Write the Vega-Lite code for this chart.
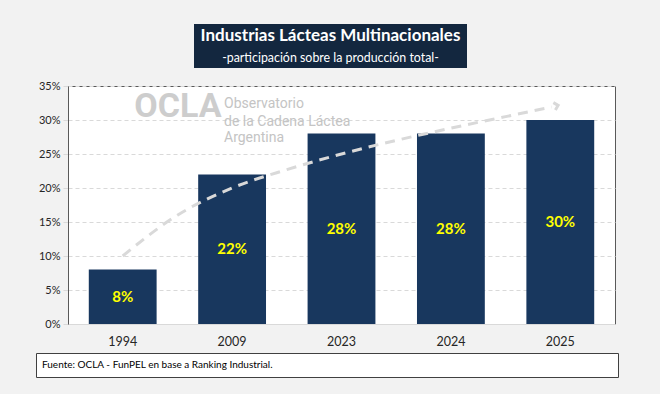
{
  "$schema": "https://vega.github.io/schema/vega-lite/v6.json",
  "background": "#f2f2f2",
  "padding": {"left": 35, "top": 24, "right": 43, "bottom": 19},
  "config": {"font": "Lato", "view": {"stroke": null}},
  "datasets": {
    "shares": [
      {"year": "1994", "share": 0.08},
      {"year": "2009", "share": 0.22},
      {"year": "2023", "share": 0.28},
      {"year": "2024", "share": 0.28},
      {"year": "2025", "share": 0.30}
    ],
    "arrow": [
      {"pos": 0.5, "val": 0.100},
      {"pos": 1.0, "val": 0.160},
      {"pos": 1.5, "val": 0.200},
      {"pos": 2.0, "val": 0.227},
      {"pos": 2.5, "val": 0.250},
      {"pos": 3.0, "val": 0.270},
      {"pos": 3.5, "val": 0.288},
      {"pos": 4.0, "val": 0.305},
      {"pos": 4.42, "val": 0.319}
    ]
  },
  "spacing": 11,
  "vconcat": [
    {
      "spacing": 0,
      "hconcat": [
        {"width": 158, "height": 44, "data": {"values": []}, "mark": "point"},
        {
          "width": 273,
          "height": 44,
          "view": {"fill": "#13273f", "stroke": null},
          "layer": [
            {
              "data": {"values": [{"t": "Industrias Lácteas Multinacionales"}]},
              "mark": {"type": "text", "fontSize": 17, "fontWeight": "bold", "color": "#ffffff", "dy": -10},
              "encoding": {"text": {"field": "t"}}
            },
            {
              "data": {"values": [{"t": "-participación sobre la producción total-"}]},
              "mark": {"type": "text", "fontSize": 12.4, "color": "#ffffff", "dy": 12},
              "encoding": {"text": {"field": "t"}}
            }
          ]
        }
      ]
    },
    {
      "spacing": 4,
      "vconcat": [
        {
          "spacing": 0,
          "hconcat": [
            {"width": 1, "height": 200, "data": {"values": []}, "mark": "point"},
            {
              "width": 547,
              "height": 238,
              "view": {"fill": "#ffffff", "stroke": "#595959", "strokeWidth": 1},
              "layer": [
                {
                  "data": {"values": [{"t": "OCLA"}]},
                  "mark": {"type": "text", "font": "Roboto", "fontWeight": "bold", "fontSize": 34, "color": "#cdcdcd", "align": "center", "baseline": "middle"},
                  "encoding": {
                    "x": {"datum": 1.005, "type": "quantitative", "scale": {"domain": [0, 5], "nice": false, "zero": false}, "axis": null},
                    "y": {"datum": 0.319, "type": "quantitative", "scale": {"domain": [0, 0.35], "nice": false}, "axis": null},
                    "text": {"field": "t"}
                  }
                },
                {
                  "data": {"values": [{"t": "Observatorio"}]},
                  "mark": {"type": "text", "font": "Roboto", "fontSize": 14, "color": "#c4c4c4", "align": "left", "baseline": "middle"},
                  "encoding": {
                    "x": {"datum": 1.426, "type": "quantitative", "scale": {"domain": [0, 5], "nice": false, "zero": false}, "axis": null},
                    "y": {"datum": 0.3235, "type": "quantitative", "scale": {"domain": [0, 0.35], "nice": false}, "axis": null},
                    "text": {"field": "t"}
                  }
                },
                {
                  "data": {"values": [{"t": "de la Cadena Láctea"}]},
                  "mark": {"type": "text", "font": "Roboto", "fontSize": 14, "color": "#c4c4c4", "align": "left", "baseline": "middle"},
                  "encoding": {
                    "x": {"datum": 1.426, "type": "quantitative", "scale": {"domain": [0, 5], "nice": false, "zero": false}, "axis": null},
                    "y": {"datum": 0.297, "type": "quantitative", "scale": {"domain": [0, 0.35], "nice": false}, "axis": null},
                    "text": {"field": "t"}
                  }
                },
                {
                  "data": {"values": [{"t": "Argentina"}]},
                  "mark": {"type": "text", "font": "Roboto", "fontSize": 14, "color": "#c4c4c4", "align": "left", "baseline": "middle"},
                  "encoding": {
                    "x": {"datum": 1.426, "type": "quantitative", "scale": {"domain": [0, 5], "nice": false, "zero": false}, "axis": null},
                    "y": {"datum": 0.2735, "type": "quantitative", "scale": {"domain": [0, 0.35], "nice": false}, "axis": null},
                    "text": {"field": "t"}
                  }
                },
                {
                  "data": {"name": "shares"},
                  "mark": {"type": "bar", "color": "#18375e"},
                  "encoding": {
                    "x": {
                      "field": "year", "type": "ordinal",
                      "scale": {"paddingInner": 0.38, "paddingOuter": 0.19},
                      "axis": {"title": null, "labelAngle": 0, "labelFontSize": 12.5, "labelColor": "#262626", "ticks": false, "domainColor": "#d9d9d9", "labelPadding": 11}
                    },
                    "y": {
                      "field": "share", "type": "quantitative",
                      "scale": {"domain": [0, 0.35], "nice": false},
                      "axis": {"title": null, "values": [0, 0.05, 0.1, 0.15, 0.2, 0.25, 0.3, 0.35], "format": ".0%", "grid": true, "gridDash": [4, 3], "gridColor": "#d9d9d9", "domainColor": "#595959", "tickColor": "#d9d9d9", "tickSize": 5, "labelPadding": 3, "labelFontSize": 11, "labelColor": "#262626"}
                    }
                  }
                },
                {
                  "data": {"name": "shares"},
                  "mark": {"type": "text", "fontSize": 15, "fontWeight": "bold", "color": "#ffff00", "baseline": "middle"},
                  "encoding": {
                    "x": {"field": "year", "type": "ordinal", "scale": {"paddingInner": 0.38, "paddingOuter": 0.19}, "axis": null},
                    "y": {"field": "share", "type": "quantitative", "scale": {"domain": [0, 0.7], "nice": false}, "axis": null},
                    "text": {"field": "share", "format": ".0%"}
                  }
                },
                {
                  "data": {"name": "arrow"},
                  "mark": {"type": "line", "interpolate": "monotone", "strokeDash": [10, 7], "strokeWidth": 3, "color": "#d9d9d9"},
                  "encoding": {
                    "x": {"field": "pos", "type": "quantitative", "scale": {"domain": [0, 5], "nice": false, "zero": false}, "axis": null},
                    "y": {"field": "val", "type": "quantitative", "scale": {"domain": [0, 0.35], "nice": false}, "axis": null}
                  }
                },
                {
                  "data": {"values": [{}]},
                  "mark": {"type": "point", "shape": "M -1 -1 L 0 0 L -1 1", "filled": false, "size": 60, "strokeWidth": 3, "color": "#d9d9d9", "angle": -15, "opacity": 1},
                  "encoding": {
                    "x": {"datum": 4.48, "type": "quantitative", "scale": {"domain": [0, 5], "nice": false, "zero": false}, "axis": null},
                    "y": {"datum": 0.3215, "type": "quantitative", "scale": {"domain": [0, 0.35], "nice": false}, "axis": null}
                  }
                }
              ],
              "resolve": {"scale": {"x": "independent", "y": "independent"}}
            }
          ]
        },
        {
          "width": 582,
          "height": 24,
          "view": {"fill": "#ffffff", "stroke": "#404040", "strokeWidth": 1},
          "data": {"values": [{"t": "Fuente: OCLA - FunPEL en base a Ranking Industrial."}]},
          "mark": {"type": "text", "align": "left", "fontSize": 10, "color": "#000000", "x": 6},
          "encoding": {"text": {"field": "t"}}
        }
      ]
    }
  ]
}
